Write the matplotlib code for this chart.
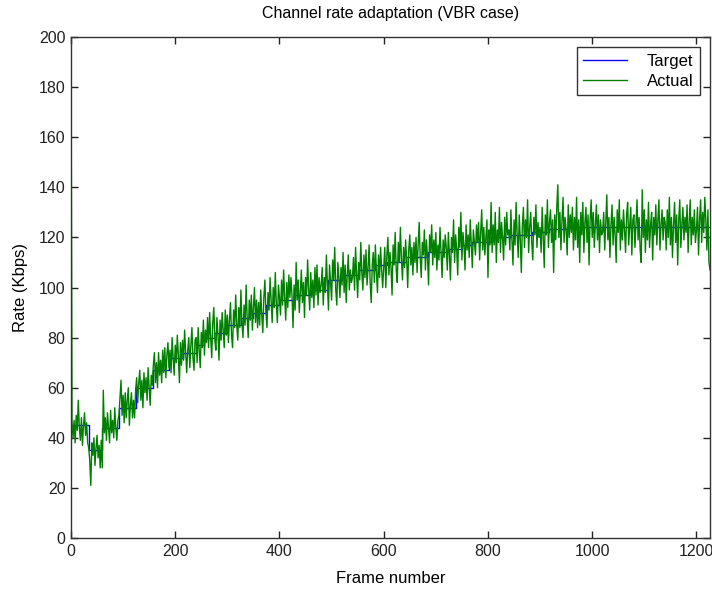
import numpy as np
import matplotlib
matplotlib.use("Agg")
import matplotlib.pyplot as plt

plt.rcParams['font.family'] = ['Liberation Sans', 'DejaVu Sans']

# Measured channel rate (Kbps), one value every 2 frames starting at frame 0
frame_step = 2
actual_rate = [
    200, 46, 40, 47, 38, 49, 43, 55, 44, 39, 48, 37, 45, 50, 41, 46, 38, 36, 31, 21, 38, 33, 40, 29, 36, 41, 32, 37, 28, 39,
    28, 59, 42, 48, 39, 50, 44, 38, 51, 42, 47, 40, 52, 44, 39, 47, 49, 56, 63, 49, 57, 46, 58, 48, 55, 60, 45, 53, 58, 48,
    55, 48, 59, 64, 54, 62, 67, 55, 63, 52, 66, 58, 64, 55, 68, 60, 53, 65, 61, 69, 74, 62, 70, 60, 74, 65, 71, 62, 75, 66,
    76, 64, 73, 78, 68, 75, 66, 80, 72, 65, 77, 70, 81, 73, 62, 78, 69, 79, 71, 83, 74, 66, 75, 80, 68, 77, 84, 72, 67, 79,
    80, 70, 84, 75, 68, 82, 76, 87, 73, 83, 78, 88, 76, 90, 80, 72, 86, 92, 79, 75, 88, 81, 71, 87, 79, 90, 83, 76, 91, 81,
    89, 78, 87, 94, 81, 76, 91, 84, 97, 85, 79, 92, 84, 99, 86, 80, 93, 85, 101, 88, 80, 95, 87, 97, 83, 92, 100, 86, 95, 84,
    94, 85, 99, 89, 82, 96, 103, 90, 84, 98, 91, 104, 95, 86, 100, 92, 106, 93, 86, 101, 96, 89, 103, 93, 107, 96, 87, 102, 92, 105,
    96, 104, 97, 84, 101, 91, 110, 95, 103, 90, 98, 107, 94, 102, 88, 104, 97, 111, 99, 91, 106, 96, 103, 92, 108, 97, 109, 93, 104, 98,
    101, 108, 93, 104, 98, 113, 101, 91, 109, 102, 95, 111, 103, 116, 99, 93, 110, 104, 96, 108, 101, 114, 98, 109, 94, 105, 113, 99, 107, 102,
    104, 112, 99, 116, 105, 96, 110, 103, 118, 106, 99, 113, 104, 115, 101, 108, 117, 102, 94, 109, 114, 102, 117, 106, 98, 113, 104, 116, 107, 100,
    108, 116, 100, 113, 120, 105, 114, 108, 97, 117, 109, 122, 107, 102, 118, 110, 124, 111, 103, 116, 108, 119, 111, 100, 115, 121, 109, 116, 105, 118,
    110, 120, 106, 117, 126, 112, 104, 118, 113, 123, 107, 119, 112, 101, 121, 114, 125, 109, 119, 112, 122, 107, 117, 111, 124, 114, 104, 119, 112, 121,
    116, 107, 122, 113, 103, 120, 114, 127, 110, 121, 115, 105, 124, 116, 130, 111, 122, 117, 107, 125, 115, 121, 112, 127, 117, 108, 123, 118, 113, 125,
    118, 126, 111, 122, 131, 115, 124, 113, 120, 127, 104, 123, 117, 134, 114, 125, 117, 130, 110, 123, 118, 132, 114, 126, 120, 111, 128, 117, 130, 121,
    123, 115, 131, 119, 109, 127, 117, 134, 121, 112, 129, 119, 106, 125, 132, 116, 127, 120, 135, 114, 124, 130, 118, 111, 128, 121, 133, 116, 126, 120,
    124, 114, 132, 120, 108, 129, 121, 135, 116, 126, 131, 118, 127, 106, 129, 119, 132, 141, 120, 130, 115, 127, 136, 118, 128, 123, 113, 133, 120, 129,
    122, 132, 115, 128, 119, 136, 116, 127, 110, 130, 121, 134, 114, 126, 132, 118, 129, 109, 127, 135, 120, 130, 116, 125, 133, 119, 129, 114, 127, 121,
    122, 130, 115, 126, 137, 119, 128, 112, 125, 133, 117, 128, 121, 110, 131, 122, 135, 115, 127, 119, 131, 123, 114, 129, 134, 117, 125, 132, 113, 127,
    129, 116, 126, 135, 119, 128, 115, 110, 139, 120, 131, 114, 127, 119, 134, 116, 125, 130, 111, 128, 121, 133, 117, 127, 135, 115, 125, 131, 119, 128,
    126, 115, 131, 120, 136, 117, 128, 112, 125, 134, 118, 129, 109, 127, 135, 116, 125, 132, 119, 128, 122, 133, 114, 126, 135, 117, 128, 121, 131, 118,
    123, 132, 113, 127, 135, 118, 130, 122, 136, 127, 115, 131, 110, 107,
]

# Target rate (Kbps): piecewise constant, each value holds from its start frame
target_start = [0, 34, 60, 93, 125, 157, 189, 215, 240, 256, 275, 300, 327, 350,
                374, 400, 430, 458, 493, 520, 550, 583, 607, 643, 684, 725, 750,
                769, 805, 845, 884, 918, 954, 1226]
target_rate = [45, 35, 44, 52, 60, 67, 72, 74, 77, 80, 82, 85, 88, 90,
               93, 95, 97, 99, 103, 105, 107, 108.8, 110, 112, 114, 115.5, 117,
               118, 120, 121, 122, 123.5, 124, 124]

x_ticks = [0, 200, 400, 600, 800, 1000, 1200]
y_ticks = [0, 20, 40, 60, 80, 100, 120, 140, 160, 180, 200]

frames = np.arange(len(actual_rate)) * frame_step

fig = plt.figure(figsize=(7.12, 5.93), dpi=100)
ax = fig.add_axes([0.0997, 0.0927, 0.8975, 0.8449])

ax.plot(target_start, target_rate, color=(0, 0, 1), lw=1.0,
        drawstyle='steps-post', label='Target')
ax.plot(frames, actual_rate, color=(0, 0.5, 0), lw=1.0, label='Actual')

ax.set_xlim(0, frames[-1])
ax.set_ylim(0, 200)
ax.set_xticks(x_ticks)
ax.set_yticks(y_ticks)
ax.tick_params(direction='in', length=5, width=1, top=True, right=True,
               labelsize=11.5, colors='#222222', pad=4)
for sp in ax.spines.values():
    sp.set_color('#333333')
    sp.set_linewidth(1.0)

ax.set_title('Channel rate adaptation (VBR case)', fontsize=11.5, pad=14)
ax.set_xlabel('Frame number', fontsize=12, labelpad=9)
ax.set_ylabel('Rate (Kbps)', fontsize=12, labelpad=8)

leg = ax.legend(loc='upper right', fontsize=12, frameon=True, fancybox=False,
                edgecolor='black', borderaxespad=0.6, handlelength=2.6,
                handletextpad=1.2, borderpad=0.4, labelspacing=0.3)
leg.get_frame().set_linewidth(1.0)

fig.savefig('out.png', dpi=100, facecolor='white')
